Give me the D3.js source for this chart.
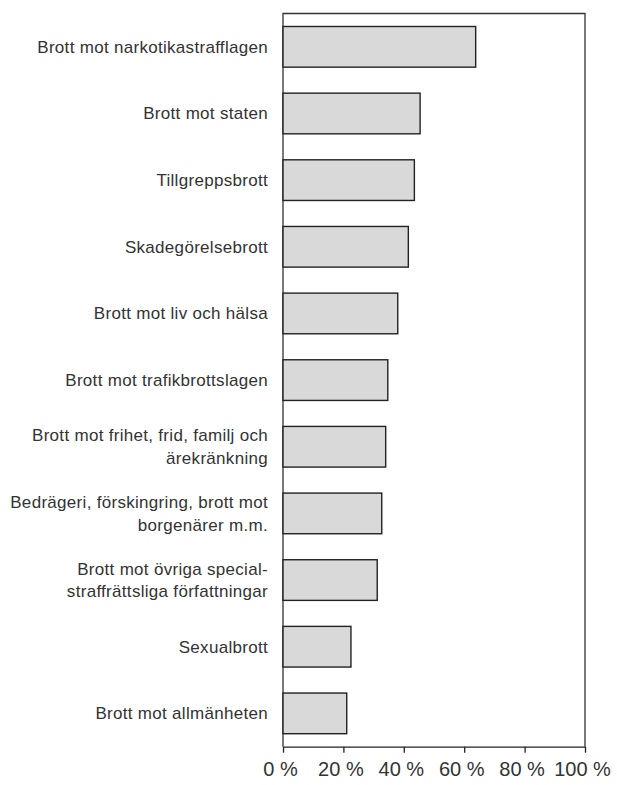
<!DOCTYPE html>
<html>
<head>
<meta charset="utf-8">
<script src="https://cdn.jsdelivr.net/npm/d3@7"></script>
<style>
  body { margin: 0; background: #fff; }
  svg text { font-family: "Liberation Sans", Arial, Helvetica, sans-serif; fill: #333; }
</style>
</head>
<body>
<div id="chart"></div>
<script>
// crime categories, top to bottom (line breaks as in the original)
var categories = [
    "Brott mot narkotikastrafflagen",
    "Brott mot staten",
    "Tillgreppsbrott",
    "Skadegörelsebrott",
    "Brott mot liv och hälsa",
    "Brott mot trafikbrottslagen",
    "Brott mot frihet, frid, familj och|ärekränkning",
    "Bedrägeri, förskingring, brott mot|borgenärer m.m.",
    "Brott mot övriga special-|straffrättsliga författningar",
    "Sexualbrott",
    "Brott mot allmänheten"
];
var values = [63.8, 45.4, 43.5, 41.5, 38.0, 34.7, 34.0, 32.7, 31.2, 22.5, 21.1];
var xTicks = [0, 20, 40, 60, 80, 100];

var margin = {top: 13.5, right: 32, bottom: 38.3, left: 283},
    width = 617 - margin.left - margin.right,
    height = 785 - margin.top - margin.bottom;

var data = categories.map(function(c, i){ return {name: c, value: values[i]}; });

var svg = d3.select("#chart").append("svg")
    .attr("width", 617)
    .attr("height", 785)
  .append("g")
    .attr("transform", "translate(" + margin.left + "," + margin.top + ")");

var x = d3.scaleLinear().domain([0, 100]).range([0, width]);
var y = d3.scaleBand()
    .domain(categories)
    .range([0, height])
    .paddingInner(0.39)
    .paddingOuter(0.195);

// frame (top, left, right)
svg.append("path")
    .attr("d", "M0," + height + "V0H" + width + "V" + height)
    .attr("fill", "none")
    .attr("stroke", "#333")
    .attr("stroke-width", 1.3);

svg.selectAll(".bar")
    .data(data)
  .enter().append("rect")
    .attr("class", "bar")
    .attr("x", x(0))
    .attr("y", function(d){ return y(d.name); })
    .attr("width", function(d){ return x(d.value) - x(0); })
    .attr("height", y.bandwidth())
    .attr("fill", "#d9d9d9")
    .attr("stroke", "#222")
    .attr("stroke-width", 1.4);

// x axis
var xAxis = svg.append("g")
    .attr("transform", "translate(0," + height + ")")
    .call(d3.axisBottom(x)
        .tickValues(xTicks)
        .tickSize(6)
        .tickSizeOuter(0)
        .tickFormat(function(d){ return d + " %"; }));
xAxis.select(".domain").attr("stroke", "#222").attr("stroke-width", 1.3);
xAxis.selectAll(".tick line").attr("stroke", "#222").attr("stroke-width", 1.3);
xAxis.selectAll(".tick text")
    .attr("font-size", "20px")
    .attr("font-family", null)
    .attr("fill", null)
    .attr("dx", "-3")
    .attr("y", 15)
    .attr("dy", "0.71em");

// category labels, right aligned, multi-line
var fs = 17;
var labels = svg.selectAll(".lab")
    .data(data)
  .enter().append("text")
    .attr("class", "lab")
    .attr("text-anchor", "end")
    .attr("font-size", fs + "px")
    .attr("letter-spacing", "0.3px")
    .attr("x", -15)
    .attr("y", function(d){ return y(d.name) + y.bandwidth() / 2; });

labels.each(function(d){
    var lines = d.name.split("|");
    var lh = 22.7;
    var t = d3.select(this);
    lines.forEach(function(line, i){
        t.append("tspan")
            .attr("x", -15)
            .attr("dy", i == 0 ? (0.35 * fs - (lines.length - 1) * lh / 2) : lh)
            .text(line);
    });
});
</script>
</body>
</html>
